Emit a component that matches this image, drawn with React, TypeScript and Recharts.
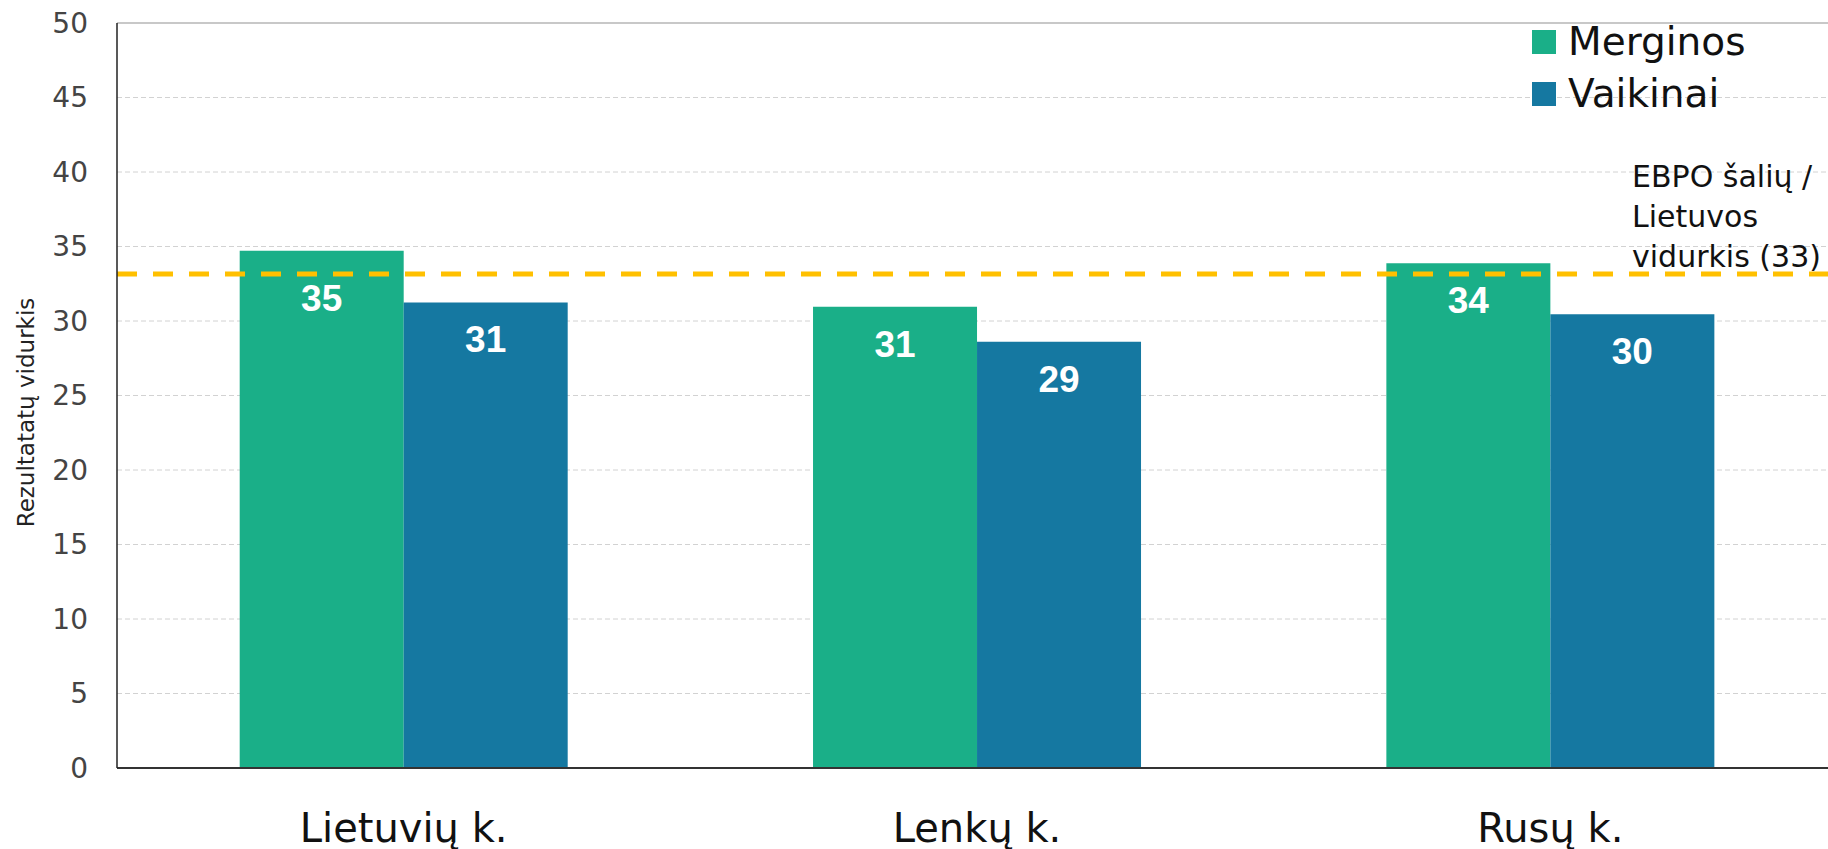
import React from 'react';
import {
  BarChart,
  Bar,
  XAxis,
  YAxis,
  CartesianGrid,
  Legend,
  ReferenceLine,
  LabelList,
  Label,
} from 'recharts';

const categories: string[] = ['Lietuvių k.', 'Lenkų k.', 'Rusų k.'];
const merginos: number[] = [34.72, 30.96, 33.87];
const vaikinai: number[] = [31.25, 28.61, 30.45];
const merginosLabels: string[] = ['35', '31', '34'];
const vaikinaiLabels: string[] = ['31', '29', '30'];
const yTicks: number[] = [0, 5, 10, 15, 20, 25, 30, 35, 40, 45, 50];
const averageValue = 33.15;
const averageLines: string[] = ['EBPO šalių /', 'Lietuvos', 'vidurkis (33)'];
const seriesNames: string[] = ['Merginos', 'Vaikinai'];
const yAxisTitle = 'Rezultatatų vidurkis';

const GREEN = '#1AAF88';
const BLUE = '#1578A1';
const FONT = '"DejaVu Sans", "Liberation Sans", sans-serif';
const LABEL_FONT = '"Liberation Sans", Arial, sans-serif';

const data = categories.map((c, i) => ({
  name: c,
  merginos: merginos[i],
  vaikinai: vaikinai[i],
  mLabel: merginosLabels[i],
  vLabel: vaikinaiLabels[i],
}));

// Value label inside the top of a bar; moved below the average line if it would overlap it
const makeBarLabel = (values: number[], texts: string[]) => (props: any) => {
  const { x, y, width, height, index } = props;
  const v = values[index];
  const bottom = y + height;
  const pxPerUnit = height / v;
  const avgY = bottom - averageValue * pxPerUnit;
  const capH = 27;
  let digitTop = y + 23;
  if (digitTop < avgY + 9.5 && digitTop + capH > avgY - 3) {
    digitTop = avgY + 9.5;
  }
  return (
    <text
      x={x + width / 2}
      y={digitTop + capH}
      textAnchor="middle"
      fill="#fff"
      fontSize={37}
      fontWeight="bold"
      fontFamily={LABEL_FONT}
    >
      {texts[index]}
    </text>
  );
};

const AverageLabel = (props: any) => {
  const vb = props.viewBox || {};
  const x = vb.x + vb.width - 205;
  const y = vb.y;
  const offs = [87, 47, 7];
  return (
    <g>
      {averageLines.map((t, i) => (
        <text
          key={i}
          x={x}
          y={y - offs[i]}
          fontFamily={FONT}
          fontSize={30}
          fill="#111"
        >
          {t}
        </text>
      ))}
    </g>
  );
};

const YTitle = (props: any) => {
  const vb = props.viewBox || {};
  const cx = vb.x + 26;
  const cy = vb.y + vb.height / 2 + 17;
  return (
    <text
      x={cx}
      y={cy}
      transform={`rotate(-90, ${cx}, ${cy})`}
      textAnchor="middle"
      dominantBaseline="central"
      fontFamily={FONT}
      fontSize={23}
      fill="#222"
    >
      {yAxisTitle}
    </text>
  );
};

const LegendContent = (props: any) => {
  const payload = props.payload || [];
  return (
    <div style={{ display: 'flex', flexDirection: 'column' }}>
      {payload.map((p: any, i: number) => (
        <div
          key={i}
          style={{ display: 'flex', alignItems: 'center', height: 52 }}
        >
          <div
            style={{ width: 24, height: 24, background: p.color, marginRight: 12 }}
          />
          <span style={{ fontFamily: FONT, fontSize: 39, color: '#111', lineHeight: '52px' }}>
            {p.value}
          </span>
        </div>
      ))}
    </div>
  );
};

export default function App() {
  return (
    <div
      style={{
        position: 'fixed',
        left: 0,
        top: 0,
        width: 1828,
        height: 849,
        overflow: 'hidden',
        background: '#fff',
        fontFamily: FONT,
      }}
    >
      <BarChart
        width={1840}
        height={849}
        data={data}
        margin={{ top: 23, right: 3, bottom: 0, left: 0 }}
        barCategoryGap="21.4%"
        barGap={0}
      >
        <CartesianGrid
          vertical={false}
          stroke="#d2d2d2"
          strokeDasharray="5 3"
        />
        <XAxis
          dataKey="name"
          height={81}
          axisLine={{ stroke: '#333', strokeWidth: 2 }}
          tickLine={false}
          tickSize={0}
          tickMargin={46}
          tick={{ fontSize: 40, fill: '#111', fontFamily: FONT }}
          interval={0}
        />
        <YAxis
          width={117}
          domain={[0, 50]}
          ticks={yTicks}
          axisLine={{ stroke: '#222', strokeWidth: 1.5 }}
          tickLine={false}
          tickSize={0}
          tickMargin={29}
          tick={{ fontSize: 28, fill: '#444', fontFamily: FONT }}
        >
          <Label content={<YTitle />} />
        </YAxis>
        <ReferenceLine y={50} stroke="#c8c8c8" strokeWidth={2} />
        <Legend
          layout="horizontal"
          verticalAlign="middle"
          align="center"
          content={<LegendContent />}
          wrapperStyle={{ top: 16, left: 1532, right: 'auto', bottom: 'auto', width: 'auto' }}
        />
        <Bar
          dataKey="merginos"
          name={seriesNames[0]}
          fill={GREEN}
          isAnimationActive={false}
        >
          <LabelList dataKey="mLabel" content={makeBarLabel(merginos, merginosLabels)} />
        </Bar>
        <Bar
          dataKey="vaikinai"
          name={seriesNames[1]}
          fill={BLUE}
          isAnimationActive={false}
        >
          <LabelList dataKey="vLabel" content={makeBarLabel(vaikinai, vaikinaiLabels)} />
        </Bar>
        <ReferenceLine
          y={averageValue}
          stroke="#FFC000"
          strokeWidth={5}
          strokeDasharray="20 16"
          label={<AverageLabel />}
        />
      </BarChart>
    </div>
  );
}
